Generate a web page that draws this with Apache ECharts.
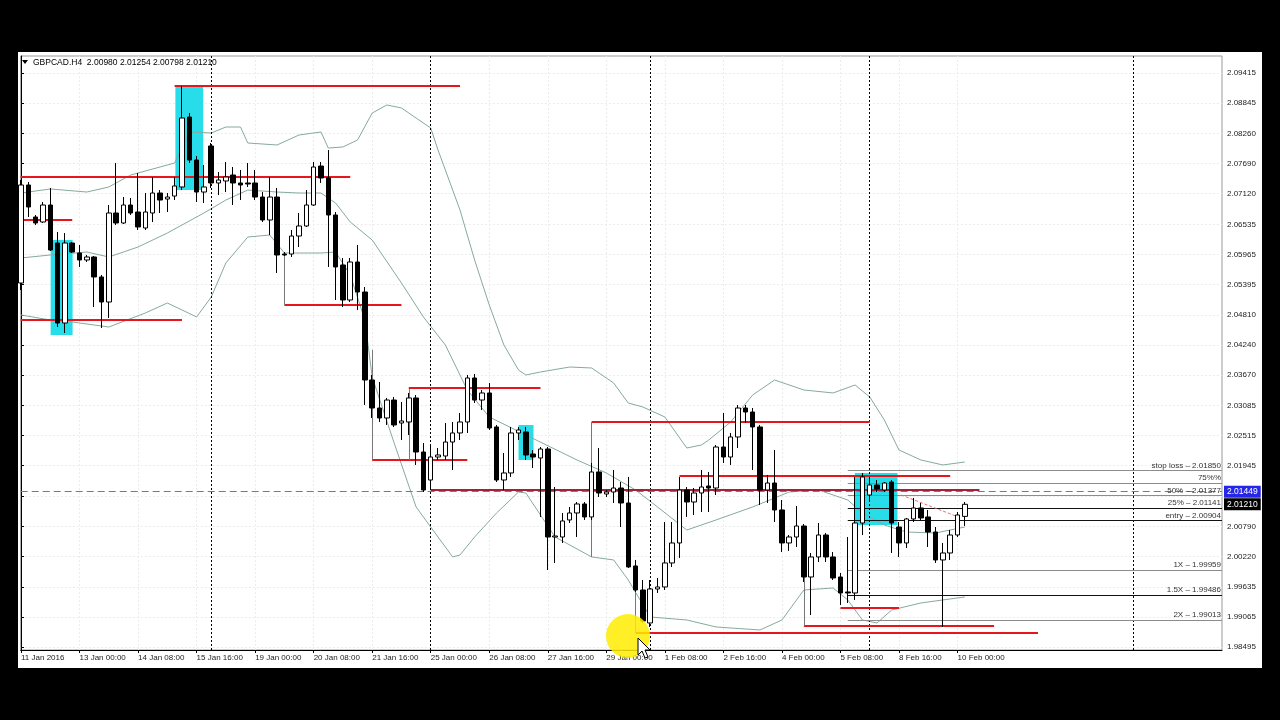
<!DOCTYPE html>
<html>
<head>
<meta charset="utf-8">
<title>GBPCAD H4</title>
<script src="https://cdn.jsdelivr.net/npm/echarts@6/dist/echarts.min.js"></script>
<style>
  html, body { margin: 0; padding: 0; width: 1280px; height: 720px; background: #000; overflow: hidden; }
  #chart { position: absolute; left: 18px; top: 52px; width: 1244px; height: 616px; background: #fff; }
</style>
</head>
<body>
<div id="chart"></div>
<script>
// one time label every 8 H4 bars, starting at bar 0
const tickLabels = ['11 Jan 2016', '13 Jan 00:00', '14 Jan 08:00', '15 Jan 16:00', '19 Jan 00:00',
  '20 Jan 08:00', '21 Jan 16:00', '25 Jan 00:00', '26 Jan 08:00', '27 Jan 16:00', '29 Jan 00:00',
  '1 Feb 08:00', '2 Feb 16:00', '4 Feb 00:00', '5 Feb 08:00', '8 Feb 16:00', '10 Feb 00:00']

const priceLabels = [2.09415, 2.08845, 2.08260, 2.07690, 2.07120, 2.06535, 2.05965, 2.05395, 2.04810,
  2.04240, 2.03670, 2.03085, 2.02515, 2.01945, 2.00790, 2.00220, 1.99635, 1.99065, 1.98495]
const priceGrid = priceLabels.concat([2.01365])

// [open, close, low, high]
const candles = [
  [2.05420, 2.07285, 2.05287, 2.07380], [2.07285, 2.06866, 2.06676, 2.07342], [2.06676, 2.06562, 2.06524, 2.06714],
  [2.06581, 2.06904, 2.06562, 2.06961], [2.06904, 2.06048, 2.06029, 2.07228], [2.06181, 2.04659, 2.04583, 2.06390],
  [2.04659, 2.06181, 2.04469, 2.06371], [2.06181, 2.06010, 2.05991, 2.06200], [2.05991, 2.05858, 2.05725, 2.06143],
  [2.05858, 2.05915, 2.05820, 2.05953], [2.05915, 2.05535, 2.04964, 2.05934], [2.05535, 2.05059, 2.04564, 2.05573],
  [2.05059, 2.06752, 2.04755, 2.06904], [2.06752, 2.06562, 2.06524, 2.07703], [2.06562, 2.06904, 2.06543, 2.07056],
  [2.06904, 2.06752, 2.06714, 2.07037], [2.06771, 2.06486, 2.06428, 2.07513], [2.06467, 2.06771, 2.06428, 2.07132],
  [2.06752, 2.07132, 2.06581, 2.07437], [2.07132, 2.06999, 2.06752, 2.07189], [2.07018, 2.07056, 2.06771, 2.07132],
  [2.07075, 2.07266, 2.06999, 2.07437], [2.07247, 2.08559, 2.07189, 2.09168], [2.08578, 2.07760, 2.07703, 2.08654],
  [2.07760, 2.07151, 2.06961, 2.07836], [2.07151, 2.07247, 2.06942, 2.07665], [2.08027, 2.07323, 2.07228, 2.08084],
  [2.07323, 2.07380, 2.07094, 2.07532], [2.07361, 2.07437, 2.07151, 2.07722], [2.07475, 2.07323, 2.06904, 2.07627],
  [2.07323, 2.07285, 2.06999, 2.07570], [2.07323, 2.07304, 2.07247, 2.07703], [2.07323, 2.07056, 2.06999, 2.07570],
  [2.07056, 2.06619, 2.06581, 2.07151], [2.06619, 2.07056, 2.06333, 2.07437], [2.07056, 2.05953, 2.05611, 2.07228],
  [2.05972, 2.05953, 2.05934, 2.06010], [2.05972, 2.06314, 2.05915, 2.06428], [2.06314, 2.06505, 2.06105, 2.06752],
  [2.06505, 2.06904, 2.06486, 2.07189], [2.06904, 2.07627, 2.06885, 2.07722], [2.07646, 2.07418, 2.07323, 2.07722],
  [2.07418, 2.06714, 2.05725, 2.07950], [2.06714, 2.05725, 2.05097, 2.06771], [2.05763, 2.05097, 2.04964, 2.05896],
  [2.05097, 2.05820, 2.05059, 2.05896], [2.05820, 2.05249, 2.04907, 2.06143], [2.05249, 2.03575, 2.03099, 2.05344],
  [2.03575, 2.03042, 2.02852, 2.03670], [2.03042, 2.02852, 2.02776, 2.03537], [2.02852, 2.03194, 2.02719, 2.03233],
  [2.03194, 2.02719, 2.02681, 2.03252], [2.02757, 2.02795, 2.02433, 2.03156], [2.02776, 2.03233, 2.02529, 2.03328],
  [2.03233, 2.02205, 2.01958, 2.03290], [2.02205, 2.01482, 2.01444, 2.02376], [2.01672, 2.02110, 2.01482, 2.02338],
  [2.02110, 2.02148, 2.02053, 2.02281], [2.02129, 2.02395, 2.02053, 2.02757], [2.02395, 2.02567, 2.01863, 2.02776],
  [2.02567, 2.02776, 2.02433, 2.02947], [2.02776, 2.03613, 2.02567, 2.03670], [2.03613, 2.03194, 2.03137, 2.03689],
  [2.03194, 2.03328, 2.03004, 2.03385], [2.03328, 2.02662, 2.02624, 2.03518], [2.02681, 2.01672, 2.01634, 2.02719],
  [2.01672, 2.01806, 2.01482, 2.02186], [2.01806, 2.02567, 2.01730, 2.02681], [2.02567, 2.02624, 2.02433, 2.02681],
  [2.02586, 2.02148, 2.02053, 2.02681], [2.02167, 2.02110, 2.01901, 2.02243], [2.02091, 2.02262, 2.00969, 2.02300],
  [2.02262, 2.00588, 1.99960, 2.02300], [2.00588, 2.00607, 2.00094, 2.01539], [2.00588, 2.00893, 2.00474, 2.01045],
  [2.00912, 2.01045, 2.00854, 2.01159], [2.01045, 2.01216, 2.00588, 2.01254], [2.01216, 2.00969, 2.00912, 2.01254],
  [2.00969, 2.01825, 2.00912, 2.01996], [2.01825, 2.01425, 2.01349, 2.02281], [2.01406, 2.01444, 2.01349, 2.01482],
  [2.01444, 2.01520, 2.01235, 2.01863], [2.01520, 2.01235, 2.00778, 2.01634], [2.01235, 2.00018, 1.99999, 2.01730],
  [2.00037, 1.99580, 1.99542, 2.00151], [1.99580, 1.98990, 1.98952, 1.99770], [1.98952, 1.99599, 1.98876, 1.99770],
  [1.99599, 1.99637, 1.99523, 1.99808], [1.99637, 2.00094, 1.99580, 2.00873], [2.00094, 2.00474, 2.00018, 2.00873],
  [2.00474, 2.01482, 2.00189, 2.01730], [2.01482, 2.01254, 2.00969, 2.01539], [2.01254, 2.01425, 2.01007, 2.01520],
  [2.01425, 2.01539, 2.01064, 2.01863], [2.01558, 2.01520, 2.01064, 2.01825], [2.01520, 2.02300, 2.01387, 2.02338],
  [2.02300, 2.02110, 2.01996, 2.02947], [2.02110, 2.02491, 2.01958, 2.02567], [2.02491, 2.03042, 2.02281, 2.03099],
  [2.03042, 2.02966, 2.02757, 2.03099], [2.02966, 2.02681, 2.01863, 2.03042], [2.02681, 2.01482, 2.01197, 2.02719],
  [2.01482, 2.01615, 2.01235, 2.01768], [2.01615, 2.01102, 2.00873, 2.02243], [2.01102, 2.00474, 2.00303, 2.01292],
  [2.00474, 2.00588, 2.00322, 2.00626], [2.00588, 2.00797, 2.00398, 2.01178], [2.00797, 1.99827, 1.99732, 2.00835],
  [1.99827, 2.00208, 1.99104, 2.00284], [2.00208, 2.00626, 2.00113, 2.00854], [2.00626, 2.00208, 2.00113, 2.00664],
  [2.00208, 1.99808, 1.99770, 2.00303], [1.99827, 1.99523, 1.99295, 1.99903], [1.99542, 1.99523, 1.99333, 2.00588],
  [1.99523, 2.00854, 1.99390, 2.01730], [2.00854, 2.01730, 2.00626, 2.01806], [2.01387, 2.01577, 2.01292, 2.01710],
  [2.01577, 2.01501, 2.01444, 2.01672], [2.01482, 2.01615, 2.01444, 2.01634], [2.01634, 2.00854, 2.00284, 2.01672],
  [2.00778, 2.00474, 2.00208, 2.00873], [2.00474, 2.00931, 2.00379, 2.00950], [2.00931, 2.01140, 2.00873, 2.01330],
  [2.01140, 2.00950, 2.00912, 2.01235], [2.00969, 2.00683, 2.00398, 2.01102], [2.00683, 2.00151, 2.00094, 2.00778],
  [2.00151, 2.00284, 1.98876, 2.00474], [2.00284, 2.00626, 2.00151, 2.00721], [2.00626, 2.01007, 2.00588, 2.01064],
  [2.00980, 2.01210, 2.00798, 2.01254]
]

// bollinger bands, [bar, price]
const upperBand = [[0, 2.07132], [4, 2.07209], [9, 2.07151], [12, 2.07247], [15, 2.07475], [19, 2.07627], [21, 2.07703],
  [22, 2.08008], [23, 2.08293], [26, 2.08274], [28, 2.08388], [30, 2.08388], [31, 2.08084], [35, 2.08046], [38, 2.08236],
  [41, 2.08293], [42, 2.07988], [44, 2.08008], [46, 2.08141], [48, 2.08654], [50, 2.08807], [52, 2.08750], [54, 2.08559],
  [56, 2.08369], [57, 2.07950], [58, 2.07570], [60, 2.06809], [62, 2.05858], [64, 2.05002], [66, 2.04241], [68, 2.03765],
  [69, 2.03670], [71, 2.03727], [75, 2.03822], [78, 2.03803], [81, 2.03518], [83, 2.03137], [85, 2.03061], [88, 2.02871],
  [91, 2.02281], [93, 2.02338], [94, 2.02433], [97, 2.02776], [100, 2.03290], [103, 2.03575], [107, 2.03385],
  [111, 2.03328], [114, 2.03480], [116, 2.03252], [118, 2.02814], [120, 2.02243], [123, 2.02053], [126, 2.01958], [129, 2.02015]]
const middleBand = [[0, 2.05896], [4, 2.05953], [9, 2.06010], [12, 2.05915], [16, 2.06105], [20, 2.06371], [25, 2.06752],
  [28, 2.06999], [31, 2.07189], [35, 2.07151], [38, 2.07132], [41, 2.07132], [43, 2.06942], [45, 2.06581], [48, 2.06238],
  [52, 2.05420], [55, 2.04774], [58, 2.04241], [61, 2.03385], [64, 2.02871], [69, 2.02529], [76, 2.02053], [80, 2.01806],
  [84, 2.01482], [87, 2.01159], [91, 2.00721], [95, 2.00912], [100, 2.01159], [105, 2.01444], [109, 2.01482],
  [113, 2.01292], [115, 2.01045], [118, 2.00816], [121, 2.00683], [125, 2.00664], [129, 2.00778]]
const lowerBand = [[0, 2.04812], [4, 2.04716], [7, 2.04678], [12, 2.04583], [17, 2.04850], [20, 2.05040], [22, 2.04907],
  [24, 2.04774], [26, 2.05154], [28, 2.05801], [31, 2.06295], [34, 2.06333], [36, 2.05991], [41, 2.05991], [43, 2.06010],
  [45, 2.05573], [47, 2.04716], [48, 2.03632], [51, 2.02376], [54, 2.01159], [57, 2.00588], [59, 2.00208], [60, 2.00246],
  [62, 2.00588], [65, 2.01045], [68, 2.01444], [69, 2.01425], [73, 2.00588], [78, 2.00208], [81, 2.00151], [83, 1.99770],
  [86, 1.99066], [91, 1.99009], [95, 1.98876], [101, 1.98819], [104, 1.99009], [107, 1.99580], [111, 1.99618],
  [113, 1.99390], [115, 1.99009], [117, 1.98952], [119, 1.99199], [123, 1.99333], [126, 1.99390], [129, 1.99447]]

// drawn objects: [fromBar, toBar, price]
const redLevels = [[21, 60, 2.09168], [-0.04, 45, 2.07437], [-0.04, 7, 2.06619], [-0.04, 22, 2.04716], [36, 52, 2.05002],
  [53, 71, 2.03423], [48, 61, 2.02053], [78, 116, 2.02776], [90, 127, 2.01749], [107, 133, 1.98895],
  [112, 120, 1.99237], [84, 139, 1.98762]]
const darkRedLevels = [[56, 131, 2.01482]]
// [bar, fromPrice, toPrice]
const grayMarks = [[36, 2.05972, 2.05002], [48, 2.04146, 2.02053], [53, 2.03404, 2.02053], [78, 2.02776, 2.00208],
  [84, 2.00094, 1.98762], [107, 2.00797, 1.98895]]
// [fromBar, toBar, top, bottom]
const boxes = [[4.05, 7.05, 2.06238, 2.04431], [21.1, 24.9, 2.09168, 2.07189], [68, 70.05, 2.02719, 2.02053],
  [113.96, 119.8, 2.01806, 2.00816]]
const weekSeparators = [26, 56, 86, 116, 152]

const fibStart = 113
const fibPrices = [2.01850, 2.01614, 2.01377, 2.01141, 2.00904, 1.99959, 1.99486, 1.99013]
const fibTexts = ['stop loss – 2.01850', '75%%', '50% – 2.01377', '25% – 2.01141', 'entry – 2.00904',
  '1X – 1.99959', '1.5X – 1.99486', '2X – 1.99013']
const fibDark = [false, false, false, true, true, false, true, false]
const fibDiagonal = [[120.3, 2.01387], [128.1, 2.00969]]

const askPrice = 2.01449
const bidPrice = 2.01210

const X_MIN = -0.04
const X_MAX = 164.15
const FONT = 'Liberation Sans'

const chart = echarts.init(document.getElementById('chart'))

const last = candles[candles.length - 1]
const header = 'GBPCAD.H4  ' + [last[0], last[3], last[2], last[1]].map(v => v.toFixed(5)).join(' ')

const xTicks = tickLabels.map((t, i) => i * 8)
const xGrid = []
for (let i = 0; i <= 160; i += 8) xGrid.push(i)

const segment = (x1, x2, p) => [{ coord: [x1, p] }, { coord: [x2, p] }]

const priceTag = (p, bg, line) => {
  const seg = segment(X_MIN, X_MAX, p)
  seg[0].lineStyle = line
  seg[0].label = {
    show: true, position: 'end', formatter: p.toFixed(5), distance: 2,
    backgroundColor: bg, color: '#fff', fontSize: 8.5, padding: [2, 3, 1, 3], fontFamily: FONT
  }
  return seg
}

const option = {
  animation: false,
  textStyle: { fontFamily: FONT },
  grid: {
    left: 0, right: 40, top: 4, bottom: 18,
    show: true, borderColor: '#9a9a9a', borderWidth: 1, backgroundColor: '#fff'
  },
  xAxis: {
    type: 'value',
    min: X_MIN,
    max: X_MAX,
    axisLine: { show: true, onZero: false, lineStyle: { color: '#000', width: 1 } },
    axisTick: { show: true, customValues: xTicks, length: 3, lineStyle: { color: '#000' } },
    axisLabel: {
      customValues: xTicks,
      formatter: v => tickLabels[Math.round(v / 8)] || '',
      align: 'left', fontSize: 8, color: '#222', margin: 4, fontFamily: FONT
    },
    splitLine: { show: true, customValues: xGrid, lineStyle: { color: '#ececec', type: [2, 2] } }
  },
  yAxis: {
    type: 'value',
    position: 'right',
    scale: true,
    min: 1.98438,
    max: 2.09739,
    axisLine: { show: true, lineStyle: { color: '#000', width: 1 } },
    axisTick: { show: true, customValues: priceGrid, length: 3, lineStyle: { color: '#000' } },
    axisLabel: {
      customValues: priceLabels,
      formatter: v => v.toFixed(5),
      fontSize: 8, color: '#222', margin: 5, fontFamily: FONT
    },
    splitLine: { show: true, customValues: priceGrid, lineStyle: { color: '#ececec', type: [2, 2] } }
  },
  series: [
    {
      name: 'boxes', type: 'line', data: [], z: 1, silent: true,
      markArea: {
        silent: true,
        itemStyle: { color: '#27dde9' },
        data: boxes.map(b => [{ coord: [b[0], b[2]] }, { coord: [b[1], b[3]] }])
      }
    },
    {
      name: 'separators', type: 'line', data: [], z: 2, silent: true,
      markLine: {
        silent: true, symbol: ['none', 'none'], label: { show: false },
        lineStyle: { color: '#000', type: [2, 2], width: 1 },
        data: weekSeparators.map(v => [{ coord: [v, 1.98438] }, { coord: [v, 2.09739] }])
      }
    },
    {
      name: 'upper', type: 'line', data: upperBand, z: 3, symbol: 'none', silent: true,
      lineStyle: { color: '#86aa9c', width: 1 }
    },
    {
      name: 'middle', type: 'line', data: middleBand, z: 3, symbol: 'none', silent: true,
      lineStyle: { color: '#86aa9c', width: 1 }
    },
    {
      name: 'lower', type: 'line', data: lowerBand, z: 3, symbol: 'none', silent: true,
      lineStyle: { color: '#86aa9c', width: 1 }
    },
    {
      name: 'fibo', type: 'line', data: [], z: 4, silent: true,
      markLine: {
        silent: true, symbol: ['none', 'none'], label: { show: false },
        data: fibPrices.map((p, i) => {
          const seg = segment(fibStart, X_MAX, p)
          seg[0].lineStyle = { color: fibDark[i] ? '#111' : '#8c8c8c', width: 1, type: 'solid' }
          seg[0].label = { show: true, position: 'insideEndTop', formatter: fibTexts[i], distance: 1,
            color: '#333', fontSize: 8, fontFamily: FONT }
          return seg
        })
      }
    },
    {
      name: 'quotes', type: 'line', data: [], z: 4, silent: true,
      markLine: {
        silent: true, symbol: ['none', 'none'],
        data: [
          priceTag(bidPrice, '#000', { color: 'rgba(0,0,0,0)', width: 1, type: 'solid' }),
          priceTag(askPrice, '#2626e8', { color: '#7474a4', type: [7, 4], width: 1 })
        ]
      }
    },
    {
      name: 'GBPCAD', type: 'candlestick', layout: 'horizontal', z: 5,
      barWidth: 5,
      data: candles.map((c, i) => [i, c[0], c[1], c[2], c[3]]),
      itemStyle: { color: '#fff', color0: '#000', borderColor: '#000', borderColor0: '#000', borderWidth: 1 }
    },
    {
      name: 'drawings', type: 'line', data: [], z: 6, silent: true,
      markLine: {
        silent: true, symbol: ['none', 'none'], label: { show: false },
        data: [].concat(
          redLevels.map(r => {
            const seg = segment(r[0], r[1], r[2])
            seg[0].lineStyle = { color: '#e5161c', width: 2, type: 'solid' }
            return seg
          }),
          darkRedLevels.map(r => {
            const seg = segment(r[0], r[1], r[2])
            seg[0].lineStyle = { color: '#a3203a', width: 2, type: 'solid' }
            return seg
          }),
          grayMarks.map(g => [
            { coord: [g[0], g[1]], lineStyle: { color: '#777', width: 1, type: 'solid' } },
            { coord: [g[0], g[2]] }
          ]),
          [[
            { coord: fibDiagonal[0], lineStyle: { color: '#e07070', width: 1, type: [3, 2] } },
            { coord: fibDiagonal[1] }
          ]]
        )
      }
    }
  ],
  graphic: [
    { type: 'polygon', z: 50, shape: { points: [[4, 8], [10, 8], [7, 12]] }, style: { fill: '#000' } },
    { type: 'text', z: 50, left: 15, top: 6,
      style: { text: header, fontSize: 8.5, fill: '#000', fontFamily: FONT } },
    { type: 'circle', z: 100, shape: { cx: 610, cy: 584, r: 22 }, style: { fill: 'rgba(255, 236, 0, 0.85)' } },
    { type: 'polygon', z: 101,
      shape: { points: [[620, 586], [620, 603], [624, 599], [627, 606], [630, 605], [627, 598], [632, 598]] },
      style: { fill: '#fff', stroke: '#000', lineWidth: 1 } }
  ]
}

chart.setOption(option)
</script>
</body>
</html>
